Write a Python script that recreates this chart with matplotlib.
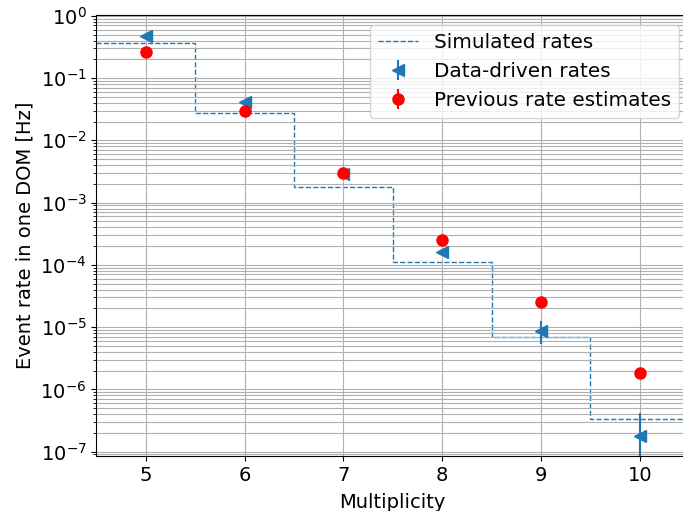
import matplotlib
matplotlib.use("Agg")
import matplotlib.pyplot as plt
import numpy as np

multiplicity = np.array([5, 6, 7, 8, 9, 10])
edges = np.arange(4.5, 11.0, 1.0)

sim_rates = [0.36, 0.0277, 1.8e-3, 1.11e-4, 6.9e-6, 3.3e-7]

data_rates = [0.48, 0.0417, 2.9e-3, 1.59e-4, 8.8e-6, 1.75e-7]
data_errs = [0.01, 1.0e-3, 1.0e-4, 1.0e-5, 3.5e-6, 2.45e-7]

prev_rates = [0.264, 0.0299, 2.99e-3, 2.51e-4, 2.51e-5, 1.82e-6]
prev_errs = [0.005, 5e-4, 5e-5, 5e-6, 5e-7, 5e-8]

plt.rcParams['font.size'] = 14

fig = plt.figure(figsize=(6.83, 5.11), dpi=100)
ax = fig.add_axes([0.141, 0.1076, 0.868, 0.8636])

# simulated rates as steps over the multiplicity bins
ax.stairs(sim_rates, edges, baseline=None, linestyle='--', color='C0',
          label='Simulated rates')
ax.errorbar(multiplicity, data_rates, yerr=data_errs, fmt='<', color='C0',
            markersize=8, label='Data-driven rates')
ax.errorbar(multiplicity, prev_rates, yerr=prev_errs, fmt='o', color='red',
            markersize=8, label='Previous rate estimates')

ax.set_yscale('log')
ax.set_xlim(4.5, 10.5)
ax.set_ylim(8.5e-8, 1.04)
ax.grid(True, which='both')
ax.set_xlabel('Multiplicity', labelpad=6)
ax.set_ylabel('Event rate in one DOM [Hz]')
ax.legend(loc='upper right', fontsize=14.4)

fig.savefig('out.png', dpi=100)
